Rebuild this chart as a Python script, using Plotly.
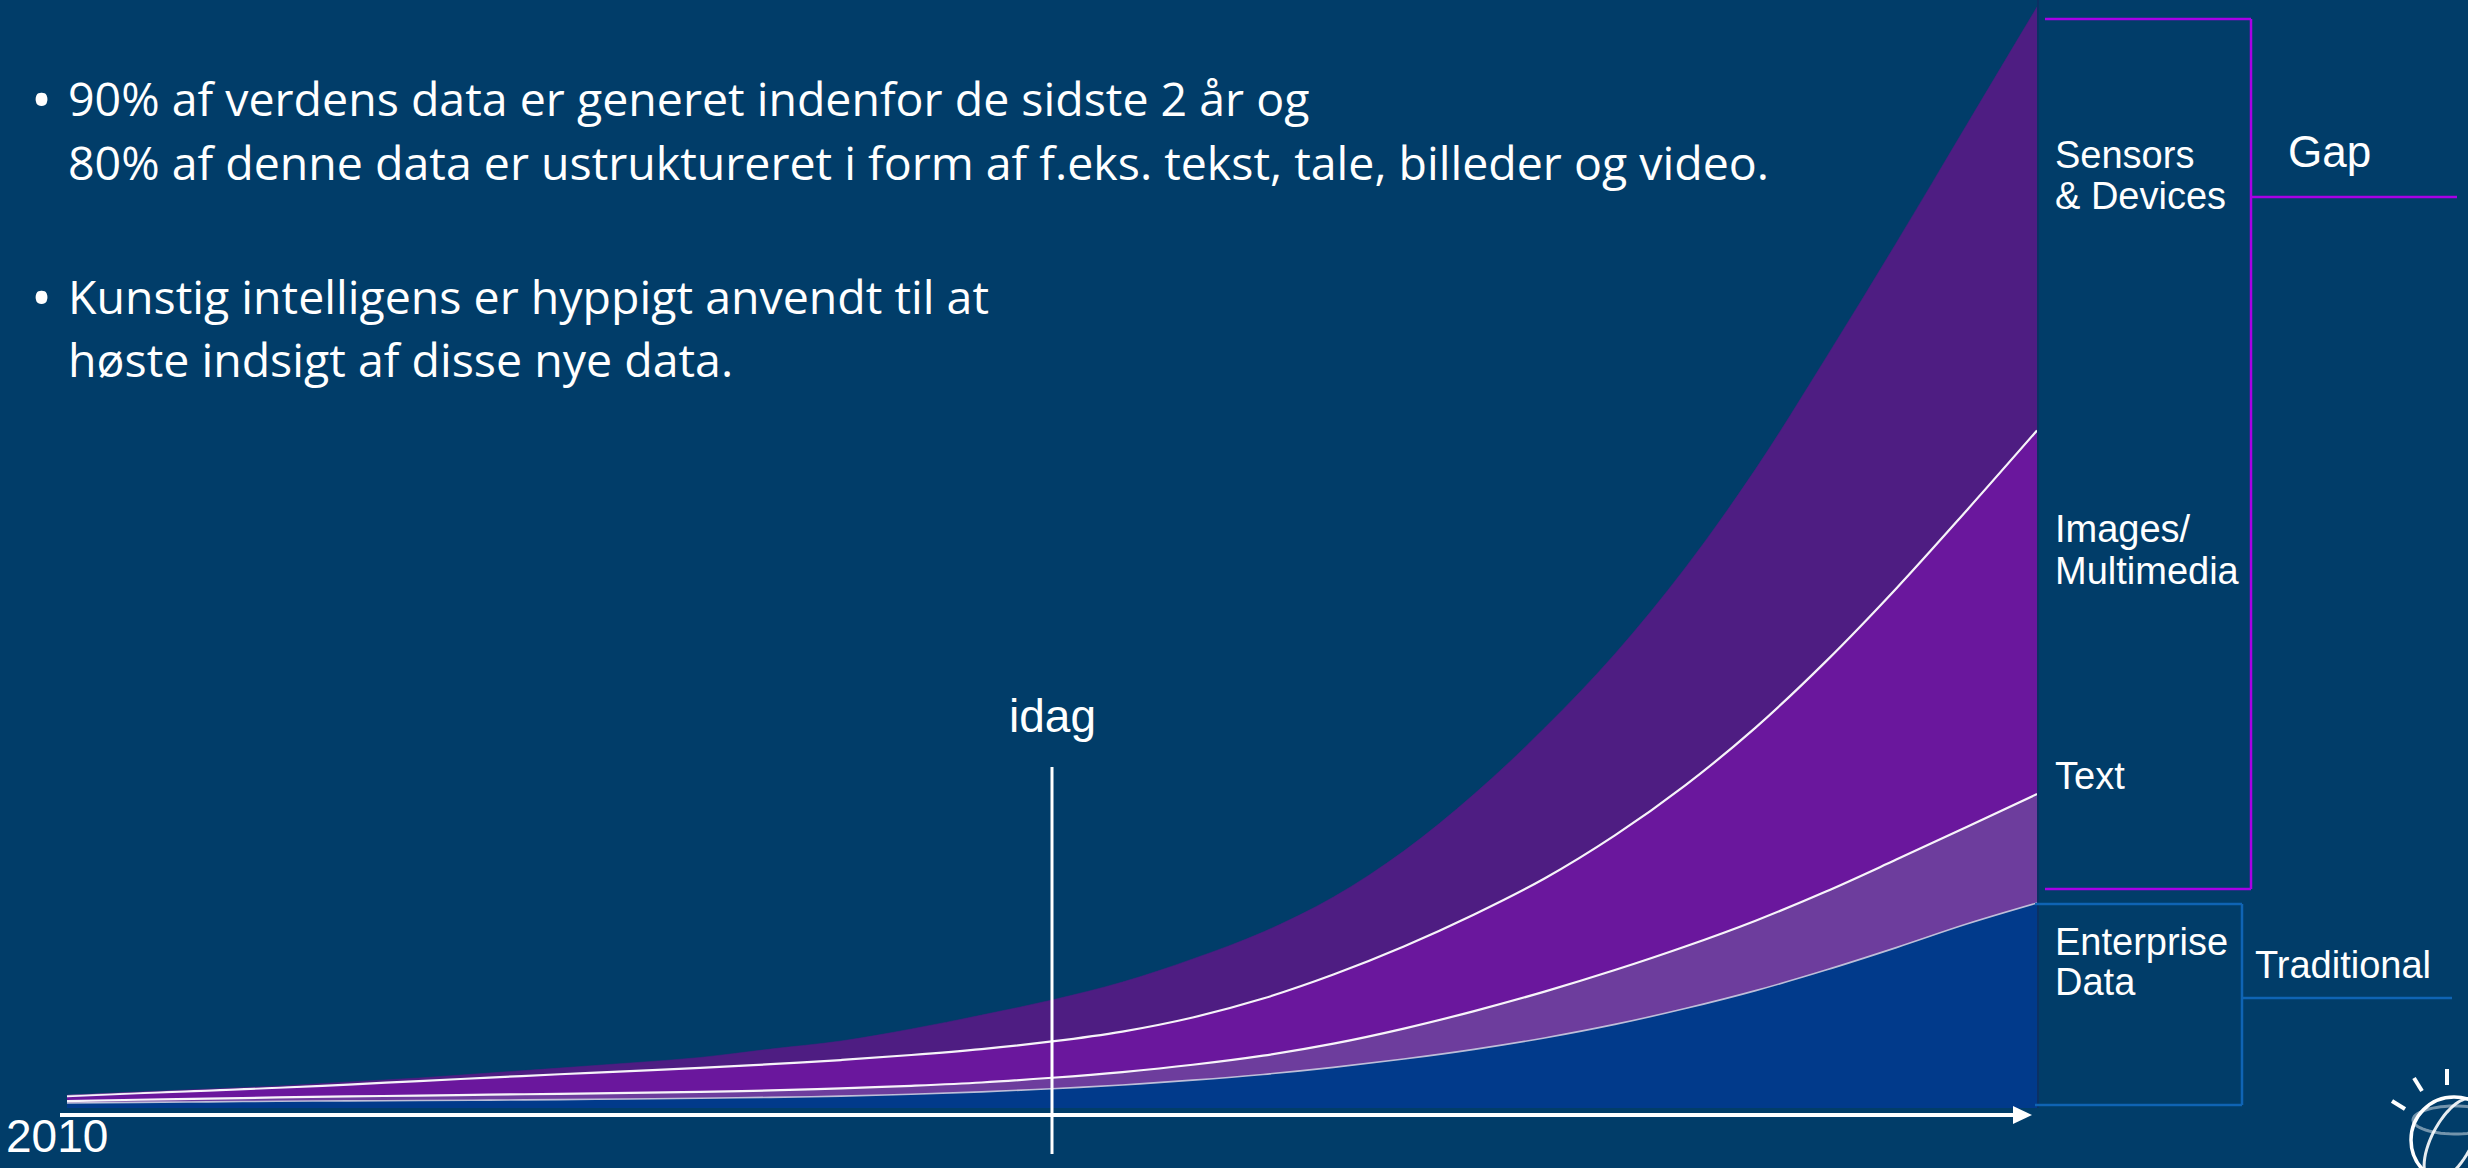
import numpy as np
import plotly.graph_objects as go

W, H = 2468, 1168

# ---------------- data (relative data volume) ----------------
years = [2010.0, 2010.5, 2011.0, 2011.5, 2012.0, 2012.5, 2013.0, 2013.5, 2014.0, 2014.5,
         2015.0, 2015.5, 2016.0, 2016.5, 2017.0, 2017.5, 2018.0, 2018.5, 2019.0, 2019.5,
         2020.0, 2020.5, 2021.0, 2021.5, 2022.0, 2022.5, 2023.0, 2023.5, 2024.0]
enterprise = [0.45, 0.51, 0.56, 0.61, 0.65, 0.68, 0.72, 0.76, 0.82, 0.89,
              0.97, 1.08, 1.25, 1.47, 1.75, 2.09, 2.53, 3.05, 3.69, 4.45,
              5.33, 6.37, 7.60, 9.04, 10.67, 12.54, 14.58, 16.72, 18.63]
text_data = [0.18, 0.24, 0.29, 0.35, 0.40, 0.45, 0.49, 0.53, 0.55, 0.58,
             0.63, 0.70, 0.77, 0.85, 1.00, 1.18, 1.40, 1.71, 2.16, 2.77,
             3.48, 4.21, 4.94, 5.64, 6.36, 7.14, 8.00, 8.82, 9.91]
images = [0.45, 0.59, 0.73, 0.88, 1.08, 1.32, 1.55, 1.78, 1.99, 2.18,
          2.38, 2.58, 2.80, 3.04, 3.30, 3.68, 4.30, 5.19, 6.28, 7.46,
          8.78, 10.28, 12.24, 14.65, 17.55, 20.92, 24.65, 28.78, 33.05]
sensors = [0.09, 0.12, 0.15, 0.16, 0.24, 0.28, 0.42, 0.56, 0.73, 0.94,
           1.38, 1.73, 2.36, 3.09, 3.77, 4.50, 5.32, 6.05, 7.05, 8.68,
           10.95, 13.68, 16.50, 19.77, 23.50, 27.59, 31.41, 35.05, 38.50]
today_year = 2017
today_label = "idag"
start_label = "2010"

layer_labels = [["Sensors", "& Devices"], ["Images/", "Multimedia"], ["Text"], ["Enterprise", "Data"]]
group_labels = ["Gap", "Traditional"]
bullets = [
    ["90% af verdens data er generet indenfor de sidste 2 år og",
     "80% af denne data er ustruktureret i form af f.eks. tekst, tale, billeder og video."],
    ["Kunstig intelligens er hyppigt anvendt til at",
     "høste indsigt af disse nye data."],
]

# ---------------- styling ----------------
BG = "#013D69"
C_ENT = "#013A8B"
C_TXT = "#6D3D9D"
C_IMG = "#6A179D"
C_SEN = "#4E1D82"
MAGENTA = "#A800E6"
BLUE = "#0F64B4"
LABEL_FONT = "Liberation Sans, Arial, sans-serif"
BULLET_FONT = "Open Sans, sans-serif"

# pixel mapping of the axes (plot area = whole figure)
PX_START, PX_END = 67, 2037
ppy = (PX_END - PX_START) / (years[-1] - years[0])
x_range = [years[0] - PX_START / ppy, years[0] + (W - PX_START) / ppy]
PY_BASE, PX_PER_UNIT = 1108, 11.0
y_range = [-(H - PY_BASE) / PX_PER_UNIT, PY_BASE / PX_PER_UNIT]


def px(x):
    return x / W


def py(y):
    return 1 - y / H


fig = go.Figure()
stack = [
    ("Enterprise Data", enterprise, C_ENT, dict(color="rgba(205,205,225,0.9)", width=1.6)),
    ("Text", text_data, C_TXT, dict(color="rgba(255,255,255,0.95)", width=2.2)),
    ("Images/Multimedia", images, C_IMG, dict(color="rgba(255,255,255,0.95)", width=2.2)),
    ("Sensors & Devices", sensors, C_SEN, dict(color=C_SEN, width=0.5)),
]
for name, vals, col, line in stack:
    fig.add_trace(go.Scatter(
        x=years, y=vals, name=name, stackgroup="data", mode="lines",
        line=dict(shape="spline", smoothing=1.0, **line), fillcolor=col,
        hoverinfo="skip", showlegend=False,
    ))

shapes = []


def seg(x0, y0, x1, y1, color, width):
    shapes.append(dict(type="line", xref="paper", yref="paper", x0=px(x0), y0=py(y0),
                       x1=px(x1), y1=py(y1), line=dict(color=color, width=width)))


# time axis with arrow
seg(60, 1115, 2016, 1115, "white", 4)
shapes.append(dict(type="path", xref="paper", yref="paper",
                   path=f"M {px(2013)} {py(1106)} L {px(2032)} {py(1115)} L {px(2013)} {py(1124)} Z",
                   fillcolor="white", line=dict(width=0)))
# today line
shapes.append(dict(type="line", xref="x", yref="paper", x0=today_year, x1=today_year,
                   y0=py(767), y1=py(1154), line=dict(color="white", width=3)))
# right edge of area
seg(2038, 0, 2038, 1108, "#0B3163", 2)
# magenta bracket (unstructured)
seg(2045, 19, 2251, 19, MAGENTA, 2.5)
seg(2251, 19, 2251, 889, MAGENTA, 2.5)
seg(2045, 889, 2251, 889, MAGENTA, 2.5)
seg(2251, 197, 2457, 197, MAGENTA, 2.5)
# blue bracket (traditional)
seg(2035, 904, 2242, 904, BLUE, 2.5)
seg(2242, 904, 2242, 1105, BLUE, 2.5)
seg(2035, 1105, 2242, 1105, BLUE, 2.5)
seg(2242, 998, 2452, 998, BLUE, 2.5)

# logo (decoration)
seg(2447, 1069, 2447, 1085, "white", 4)
seg(2414, 1078, 2422, 1091, "white", 4)
seg(2392, 1101, 2405, 1109, "white", 4)
shapes.append(dict(type="circle", xref="paper", yref="paper", x0=px(2411), y0=py(1097),
                   x1=px(2497), y1=py(1183), line=dict(color="white", width=3.5)))
t = np.linspace(0, 2 * np.pi, 60)
cx, cy, a, b, ang = 2452, 1140, 46, 20, np.deg2rad(-62)
ex = cx + a * np.cos(t) * np.cos(ang) - b * np.sin(t) * np.sin(ang)
ey = cy + a * np.cos(t) * np.sin(ang) + b * np.sin(t) * np.cos(ang)
path = "M " + " L ".join(f"{px(u):.5f} {py(v):.5f}" for u, v in zip(ex, ey)) + " Z"
shapes.append(dict(type="path", xref="paper", yref="paper", path=path,
                   line=dict(color="rgba(255,255,255,0.9)", width=3)))
cx, cy, a, b = 2455, 1120, 42, 14
ex = cx + a * np.cos(t)
ey = cy + b * np.sin(t)
path = "M " + " L ".join(f"{px(u):.5f} {py(v):.5f}" for u, v in zip(ex, ey)) + " Z"
shapes.append(dict(type="path", xref="paper", yref="paper", path=path,
                   line=dict(color="rgba(255,255,255,0.45)", width=3)))

annotations = []


def label(text, x, y, size, font=LABEL_FONT, xanchor="left"):
    annotations.append(dict(text=text, xref="paper", yref="paper", x=px(x), y=py(y),
                            xanchor=xanchor, yanchor="middle", showarrow=False,
                            font=dict(family=font, size=size, color="white")))


# bullet text
bullet_rows = [(98, 162), (296, 359)]
for (y1, y2), lines in zip(bullet_rows, bullets):
    label("•", 42, y1, 56, BULLET_FONT, xanchor="center")
    label(lines[0], 66, y1, 46.5, BULLET_FONT)
    label(lines[1], 66, y2, 46.5, BULLET_FONT)

# layer labels
label(layer_labels[0][0], 2053, 155, 38)
label(layer_labels[0][1], 2053, 196, 38)
label(layer_labels[1][0], 2053, 529, 38)
label(layer_labels[1][1], 2053, 571, 38)
label(layer_labels[2][0], 2053, 776, 38)
label(layer_labels[3][0], 2053, 942, 38)
label(layer_labels[3][1], 2053, 982, 38)
label(group_labels[0], 2286, 152, 44)
label(group_labels[1], 2253, 965, 38)
# time labels
annotations.append(dict(text=today_label, xref="x", yref="paper", x=today_year, y=py(716),
                        xanchor="center", yanchor="middle", showarrow=False,
                        font=dict(family=LABEL_FONT, size=46, color="white")))
label(start_label, 4, 1136, 46)

fig.update_layout(
    width=W, height=H, autosize=False,
    margin=dict(l=0, r=0, t=0, b=0, pad=0),
    paper_bgcolor=BG, plot_bgcolor=BG,
    xaxis=dict(range=x_range, visible=False, fixedrange=True),
    yaxis=dict(range=y_range, visible=False, fixedrange=True),
    shapes=shapes, annotations=annotations, showlegend=False,
)

fig.write_html("out.html", config={"displayModeBar": False, "staticPlot": True},
               post_script="document.body.style.margin='0';document.body.style.overflow='hidden';")
